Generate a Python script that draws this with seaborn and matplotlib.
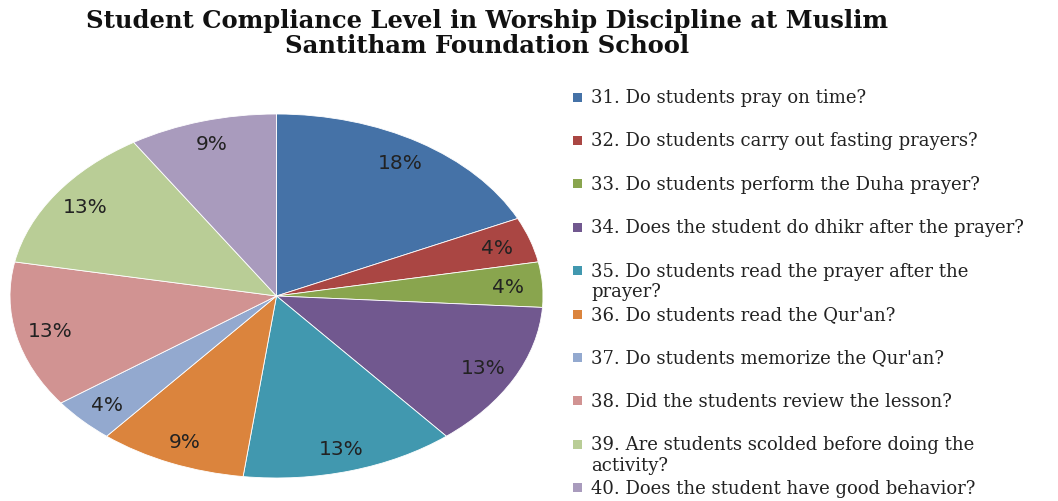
import matplotlib
matplotlib.use("Agg")
import matplotlib.pyplot as plt
import seaborn as sns
from matplotlib.patches import Rectangle

sns.set_theme(style="white")

questions = [
    "31. Do students pray on time?",
    "32. Do students carry out fasting prayers?",
    "33. Do students perform the Duha prayer?",
    "34. Does the student do dhikr after the prayer?",
    "35. Do students read the prayer after the\nprayer?",
    "36. Do students read the Qur'an?",
    "37. Do students memorize the Qur'an?",
    "38. Did the students review the lesson?",
    "39. Are students scolded before doing the\nactivity?",
    "40. Does the student have good behavior?",
]
percent = [18, 4, 4, 13, 13, 9, 4, 13, 13, 9]
colors = ["#4572A7", "#AA4643", "#89A54E", "#71588F", "#4198AF",
          "#DB843D", "#93A9CF", "#D19392", "#B9CD96", "#A99BBD"]
palette = sns.color_palette(colors)

W, H = 1058, 502
fig = plt.figure(figsize=(W / 100, H / 100), dpi=100)
fig.patch.set_facecolor("white")

# pie is stretched horizontally like the original
ax = fig.add_axes([10 / W, 23 / H, 533 / W, 364 / H])
wedges, texts, autotexts = ax.pie(
    percent, colors=palette, startangle=90, counterclock=False,
    autopct="%.0f%%", pctdistance=0.87,
    wedgeprops=dict(edgecolor="white", linewidth=0.6),
    textprops=dict(fontsize=14.5, color="#222222", family="DejaVu Sans"),
)
ax.set_aspect("auto")
ax.set_xlim(-1, 1)
ax.set_ylim(-1, 1)
ax.axis("off")

fig.text(487 / W, 1 - 9 / H,
         "Student Compliance Level in Worship Discipline at Muslim\nSantitham Foundation School",
         ha="center", va="top", fontsize=17.5, fontweight="bold",
         family="DejaVu Serif", linespacing=1.05, color="#111111")

# legend drawn as a column on the right
y0, dy = 98, 43.4
for i, (q, c) in enumerate(zip(questions, palette)):
    yc = y0 + i * dy
    fig.add_artist(Rectangle((573 / W, 1 - (yc + 4.5) / H), 9 / W, 9 / H,
                             transform=fig.transFigure, facecolor=c,
                             edgecolor="none"))
    fig.text(591 / W, 1 - (yc - 9) / H, q, ha="left", va="top",
             fontsize=13, family="DejaVu Serif", linespacing=1.17,
             color="#222222")

fig.savefig("out.png", dpi=100)
